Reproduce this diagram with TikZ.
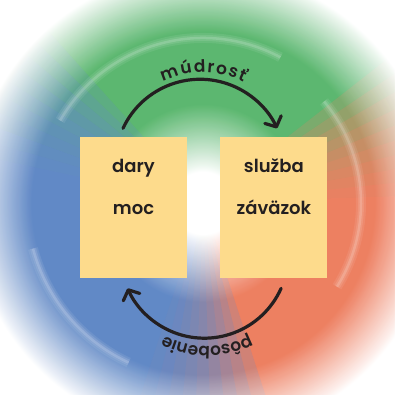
\documentclass[tikz,border=0pt]{standalone}
\usepackage{fontspec}
\setmainfont{Poppins}[BoldFont={Poppins SemiBold}]
\usetikzlibrary{positioning,arrows.meta,decorations.text}

\definecolor{swirlgreen}{RGB}{69,174,92}
\definecolor{swirlred}{RGB}{237,110,75}
\definecolor{swirlblue}{RGB}{75,121,191}
\definecolor{cardyellow}{RGB}{253,219,140}
\definecolor{inkblack}{RGB}{35,31,32}

% rings of colour round the white middle (25bp = radius of the shaded circle)
\pgfdeclareradialshading{greenring}{\pgfpointorigin}{color(0bp)=(white); color(3bp)=(white); color(9.5bp)=(swirlgreen); color(16.5bp)=(swirlgreen); color(22.5bp)=(white); color(50bp)=(white)}
\pgfdeclareradialshading{redring}{\pgfpointorigin}{color(0bp)=(white); color(3bp)=(white); color(9.5bp)=(swirlred); color(16.5bp)=(swirlred); color(22.5bp)=(white); color(50bp)=(white)}
\pgfdeclareradialshading{bluering}{\pgfpointorigin}{color(0bp)=(white); color(3bp)=(white); color(9.5bp)=(swirlblue); color(16.5bp)=(swirlblue); color(22.5bp)=(white); color(50bp)=(white)}

\newcommand{\arcfont}{\fontsize{17}{17}\selectfont\bfseries}

\tikzstyle{card} = [rectangle, fill=cardyellow, minimum width=107pt, minimum height=141.5pt, inner sep=0pt, align=center, text=inkblack, font=\fontsize{18}{42}\selectfont\bfseries]
\tikzstyle{flow} = [draw=inkblack, line width=3.2pt, line cap=round, -{Straight Barb[length=8pt,width=18pt,round]}]
\tikzstyle{arclabel} = [decorate, decoration={text effects along path, text effects/.cd, text along path, fit text to path, characters={text=inkblack, font=\arcfont, anchor=base}}]

\begin{document}
\begin{tikzpicture}[x=1pt,y=1pt]
    \useasboundingbox (0,0) rectangle (394,395);
    \fill[white] (0,0) rectangle (394,395);
    \coordinate (ctr) at (203,192);

    % swirl background
    \foreach \a/\b/\shd in {20/150/greenring, -90/20/redring, 150/270/bluering}{
        \foreach \d in {0,4,...,36}{
            \begin{scope}
                \clip (ctr) -- ++(\a-\d+18:300) arc[start angle=\a-\d+18, end angle=\b+\d-18, radius=300] -- cycle;
                \shade[shading=\shd, opacity=0.18] (ctr) circle (260);
            \end{scope}
        }
    }
    \foreach \w/\o in {10/0.08, 6/0.1, 2.5/0.16}{
        \draw[white, line width=\w, opacity=\o] ([shift={(40:158)}]ctr) arc[start angle=40, end angle=-32, radius=158];
        \draw[white, line width=\w, opacity=\o] ([shift={(195:176)}]ctr) arc[start angle=195, end angle=245, radius=176];
        \draw[white, line width=\w, opacity=\o] ([shift={(150:165)}]ctr) arc[start angle=150, end angle=62, radius=165];
    }

    % the two cards
    \node[card] (dary) at (133.5,187.5) {dary\\moc\\~};
    \node[card, right=33pt of dary] (sluzba) {služba\\záväzok\\~};

    % arrows round the cards
    \draw[flow] ([shift={(-10.5,8.2)}]dary.north) arc[start angle=155, end angle=25, radius=85];
    \draw[flow] ([shift={(7.2,-9.9)}]sluzba.south) arc[start angle=-24, end angle=-156, radius=84];

    \coordinate (topc) at (203,230.5);
    \coordinate (botc) at (207,141);
    \path[arclabel, decoration={text={múdrosť}}] ([shift={(116:92)}]topc) arc[start angle=116, end angle=64, radius=92];
    \path[arclabel, decoration={text={pôsobenie}}] ([shift={(-62.5:92.5)}]botc) arc[start angle=-62.5, end angle=-117.5, radius=92.5];
\end{tikzpicture}
\end{document}
